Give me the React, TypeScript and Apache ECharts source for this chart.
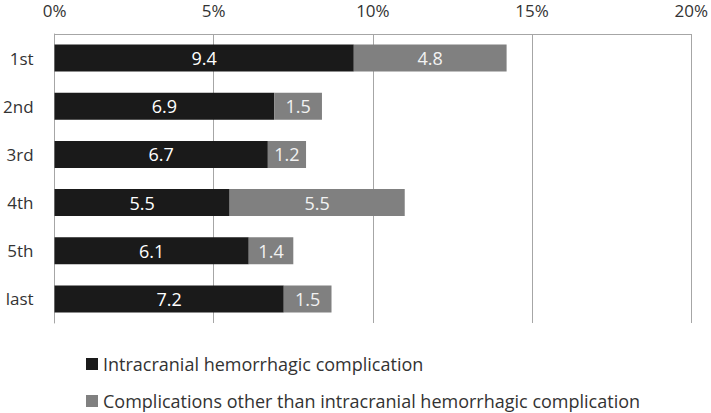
import React, { useEffect, useRef } from "react";
import * as echarts from "echarts";

const categories = ["1st", "2nd", "3rd", "4th", "5th", "last"];
const intracranial = [9.4, 6.9, 6.7, 5.5, 6.1, 7.2];
const other = [4.8, 1.5, 1.2, 5.5, 1.4, 1.5];
const seriesNames = [
  "Intracranial hemorrhagic complication",
  "Complications other than intracranial hemorrhagic complication",
];

export default function App() {
  const ref = useRef<HTMLDivElement>(null);
  useEffect(() => {
    if (!ref.current) return;
    const chart = echarts.init(ref.current, null, { renderer: "svg" });
    const font = "'Open Sans', 'Noto Sans', sans-serif";
    const legendBase = {
      orient: "vertical",
      left: 81,
      itemWidth: 12,
      itemHeight: 12,
      itemGap: 6,
      icon: "rect",
      textStyle: { fontSize: 18, color: "#333", fontFamily: font },
    };
    chart.setOption({
      animation: false,
      textStyle: { fontFamily: font },
      grid: { left: 52, right: 17, top: 34, bottom: 90 },
      legend: [
        { ...legendBase, top: 350, data: [seriesNames[0]] },
        { ...legendBase, top: 387, data: [seriesNames[1]] },
      ],
      xAxis: {
        type: "value",
        position: "top",
        min: 0,
        max: 20,
        interval: 5,
        axisLabel: { formatter: "{value}%", fontSize: 17, color: "#333", margin: 15 },
        axisLine: { show: true, lineStyle: { color: "#a6a6a6", width: 1 } },
        axisTick: { show: false },
        splitLine: { show: true, lineStyle: { color: "#a6a6a6", width: 1 } },
      },
      yAxis: {
        type: "category",
        inverse: true,
        data: categories,
        axisLabel: { fontSize: 17, color: "#333", margin: 21 },
        axisLine: { show: true, lineStyle: { color: "#a6a6a6", width: 1 } },
        axisTick: { show: false },
      },
      series: [
        {
          name: seriesNames[0],
          type: "bar",
          stack: "total",
          barWidth: "56%",
          data: intracranial,
          itemStyle: { color: "#1a1a1a" },
          label: { show: true, position: "inside", color: "#fff", fontSize: 18, fontFamily: font },
        },
        {
          name: seriesNames[1],
          type: "bar",
          stack: "total",
          barWidth: "56%",
          data: other,
          itemStyle: { color: "#808080" },
          label: { show: true, position: "inside", color: "#f2f2f2", fontSize: 18, fontFamily: font },
        },
      ],
    });
    return () => chart.dispose();
  }, []);
  return (
    <div
      ref={ref}
      style={{ position: "absolute", left: 0, top: 0, width: 711, height: 413 }}
    />
  );
}
